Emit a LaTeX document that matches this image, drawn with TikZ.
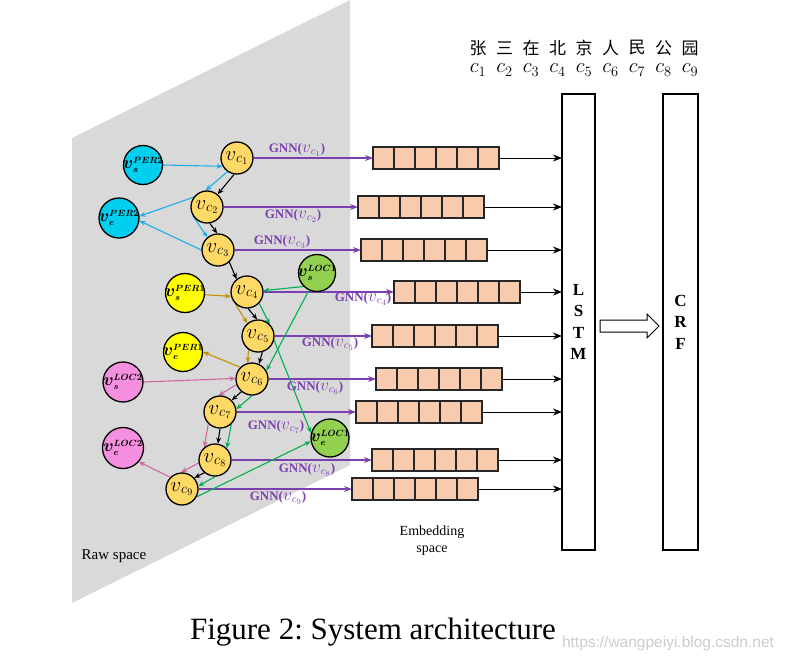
\documentclass[tikz,border=0pt]{standalone}
\usepackage{amsmath}
\usepackage{fontspec}
\setmainfont{Liberation Serif}
\setsansfont{Liberation Sans}
\newfontfamily\cjkfont{Noto Sans CJK SC}
\usetikzlibrary{arrows.meta,calc}
\definecolor{rawgray}{HTML}{D9D9D9}
\definecolor{cgold}{HTML}{FFD966}
\definecolor{ncyan}{HTML}{00CFEF}
\definecolor{ecyan}{HTML}{1AADE8}
\definecolor{nyellow}{HTML}{FFFF00}
\definecolor{egold}{HTML}{BF9000}
\definecolor{npink}{HTML}{F58FE0}
\definecolor{epink}{HTML}{D0689F}
\definecolor{ngreen}{HTML}{92D050}
\definecolor{egreen}{HTML}{00B050}
\definecolor{boxfill}{HTML}{F8CBAD}
\definecolor{gnnpurple}{HTML}{7B3FB0}
\definecolor{wmark}{HTML}{CCCCCC}
\pgfdeclarelayer{bg}
\pgfdeclarelayer{edges}
\pgfsetlayers{bg,edges,main}
% label helpers
\newcommand{\vcx}[1]{$\mbox{\fontsize{21}{21}\selectfont$v$}_{\mbox{\fontsize{14}{14}\selectfont$c_{#1}$}}$}
\newcommand{\vgnn}[1]{$\mbox{\fontsize{16}{16}\selectfont$v$}_{\mbox{\fontsize{11}{11}\selectfont$c_{#1}$}}$}
\newcommand{\vent}[2]{\makebox[0pt][c]{$\mbox{\fontsize{18}{18}\selectfont$\boldsymbol{v}$}_{\boldsymbol{#1}}^{\boldsymbol{#2}}$}}
\begin{document}
\frenchspacing
\begin{tikzpicture}[x=1pt,y=-1pt,
  cnode/.style={circle, draw=black, line width=1.3pt, fill=cgold, minimum size=32pt, inner sep=0pt, font=\fontsize{15}{15}\selectfont},
  bignode/.style={circle, draw=black, line width=1.3pt, minimum size=39pt, inner sep=0pt, font=\fontsize{13.5}{13.5}\selectfont},
  arr/.style={-{Stealth[length=6pt,width=5pt]}, line width=1.1pt},
  blk/.style={arr, color=black},
  cy/.style={arr, color=ecyan},
  gd/.style={arr, color=egold},
  gr/.style={arr, color=egreen},
  pk/.style={arr, color=epink},
  gnn/.style={-{Stealth[length=8pt,width=6pt]}, line width=1.1pt, color=gnnpurple},
  gnnlab/.style={text=gnnpurple, font=\bfseries\fontsize{13}{13}\selectfont, inner sep=0pt},
  embbox/.style={draw=black!85, line width=1.2pt, fill=boxfill, minimum width=126pt, minimum height=22pt, inner sep=0pt, outer sep=0pt, anchor=west},
  tolstm/.style={-{Stealth[length=9pt,width=7pt]}, line width=0.9pt, color=black},
  tallbox/.style={draw=black, line width=1.3pt, minimum width=33pt, minimum height=456pt, inner sep=0pt, outer sep=0pt, anchor=north west, align=center, font=\bfseries\fontsize{17}{21.5}\selectfont},
  plain/.style={inner sep=0pt}
]
\useasboundingbox (0,0) rectangle (785,662);
\begin{pgfonlayer}{bg}
\fill[rawgray] (72,138) -- (350,0) -- (350,465) -- (72,603) -- cycle;
\end{pgfonlayer}

% character nodes
\node[cnode] (c1) at (237,158) {\vcx{1}};
\node[cnode] (c2) at (207,207) {\vcx{2}};
\node[cnode] (c3) at (218,250) {\vcx{3}};
\node[cnode] (c4) at (247,292) {\vcx{4}};
\node[cnode] (c5) at (258,336) {\vcx{5}};
\node[cnode] (c6) at (252,379) {\vcx{6}};
\node[cnode] (c7) at (220,412) {\vcx{7}};
\node[cnode] (c8) at (215,460) {\vcx{8}};
\node[cnode] (c9) at (182,489) {\vcx{9}};

% entity nodes
\node[bignode, fill=ncyan] (sP2) at (143,165) {\vent{s}{PER2}};
\node[bignode, fill=ncyan, minimum size=40pt] (eP2) at (119,218) {\vent{e}{PER2}};
\node[bignode, fill=nyellow] (sP1) at (185,293) {\vent{s}{PER1}};
\node[bignode, fill=nyellow] (eP1) at (183,352) {\vent{e}{PER1}};
\node[bignode, fill=npink, minimum size=40pt] (sL2) at (123,382) {\vent{s}{LOC2}};
\node[bignode, fill=npink, minimum size=41pt] (eL2) at (123,448) {\vent{e}{LOC2}};
\node[bignode, fill=ngreen, minimum size=37pt] (sL1) at (317,273) {\vent{s}{LOC1}};
\node[bignode, fill=ngreen, minimum size=38pt] (eL1) at (330,438) {\vent{e}{LOC1}};

% embedding boxes
\foreach \n/\x/\y in {1/373/158, 2/358/207, 3/361/250, 4/394/292, 5/372/336, 6/376/379, 7/356/412, 8/372/460, 9/352/489}{
  \node[embbox] (b\n) at (\x,\y) {};
  \foreach \k in {1,...,5}{
    \draw[line width=1.2pt, black!85] ($(b\n.north west)+(\k*21,0)$) -- ($(b\n.south west)+(\k*21,0)$);
  }
}

% LSTM and CRF
\node[tallbox] (lstm) at (562,94) {L\\S\\T\\M};
\node[tallbox, minimum width=35pt] (crf) at (663,94) {C\\R\\F};

\foreach \n in {1,...,9}{
  \draw[tolstm] (b\n.east) -- (b\n.east -| lstm.west);
}

% open arrow LSTM -> CRF
\draw[line width=1pt] (600,320) -- (647,320) -- (647,314) -- (659,326) -- (647,338) -- (647,332) -- (600,332) -- cycle;

\begin{pgfonlayer}{edges}
% GNN arrows
\foreach \n in {1,...,9}{
  \draw[gnn] (c\n.east) -- (b\n.west);
}
% black chain
\draw[blk] (c1.-100) -- (c2.50);
\draw[blk] (c2.-80) -- (c3.93);
\draw[blk] (c3.-47) -- (c4.129);
\draw[blk] (c4.-86) -- (c5.93);
\draw[blk] (c5.-75) -- (c6.65);
\draw[blk] (c6.-130) -- (c7.45);
\draw[blk] (c7.-90) -- (c8.80);
\draw[blk] (c8.-130) -- (c9.42);
% cyan PER2
\draw[cy] (sP2.east) -- (c1.210);
\draw[cy] (c1.235) -- (c2.95);
\draw[cy] (c2.75) -- (eP2.5);
\draw[cy] (c2.210) -- (c3.130);
\draw[cy] (c3.180) -- (eP2.-8);
% gold PER1
\draw[gd] (sP1.-5) -- (c4.195);
\draw[gd] (c4.-135) -- (c5.130);
\draw[gd] (c5.-125) -- (c6.105);
\draw[gd] (c6.135) -- (eP1.east);
% green LOC1
\draw[gr] (sL1.225) -- (c4.5);
\draw[gr] (sL1.245) -- (c6.30);
\draw[gr] (c4.-43) -- (c5.45);
\draw[gr] (c5.-15) -- (eL1.165);
\draw[gr] (c6.-90) -- (c7.10);
\draw[gr] (c7.-47) -- (c8.45);
\draw[gr] (c8.-90) -- (c9.10);
\draw[gr] (c9.-28) -- (eL1.190);
% pink LOC2
\draw[pk] (sL2.east) -- (c6.178);
\draw[pk] (c6.200) -- (c7.95);
\draw[pk] (c7.-135) -- (c8.130);
\draw[pk] (c8.190) -- (c9.93);
\draw[pk] (c9.135) -- (eL2.-41);
\end{pgfonlayer}

% GNN labels
\node[gnnlab] (g1) at (297,150) {GNN(\vgnn{1})};
\node[gnnlab] (g2) at (293,216) {GNN(\vgnn{2})};
\node[gnnlab] (g3) at (282,242) {GNN(\vgnn{3})};
\node[gnnlab] (g4) at (363,299) {GNN(\vgnn{4})};
\node[gnnlab] (g5) at (330,344) {GNN(\vgnn{5})};
\node[gnnlab] (g6) at (315,388) {GNN(\vgnn{6})};
\node[gnnlab] (g7) at (276,427) {GNN(\vgnn{7})};
\node[gnnlab] (g8) at (307,470) {GNN(\vgnn{8})};
\node[gnnlab] (g9) at (278,498) {GNN(\vgnn{9})};

% sentence
\foreach \ch [count=\i] in {张,三,在,北,京,人,民,公,园}{
  \node[plain, font=\cjkfont\fontsize{17}{17}\selectfont] (ch\i) at ({478+26.5*(\i-1)},48) {\ch};
  \node[plain, font=\fontsize{20}{20}\selectfont] (cc\i) at ({478+26.5*(\i-1)},70) {$c_{\i}$};
}

% texts
\node[plain, font=\fontsize{15}{15}\selectfont] (raw) at (114,556) {Raw space};
\node[plain, align=center, font=\fontsize{14}{17}\selectfont] (emb) at (432,541) {Embedding\\space};
\node[plain, font=\fontsize{31}{31}\selectfont] (cap) at (373,632) {Figure 2: System architecture};
\node[plain, text=wmark, font=\sffamily\fontsize{15.5}{15.5}\selectfont] (wm) at (668,643) {https://wangpeiyi.blog.csdn.net};
\end{tikzpicture}
\end{document}
